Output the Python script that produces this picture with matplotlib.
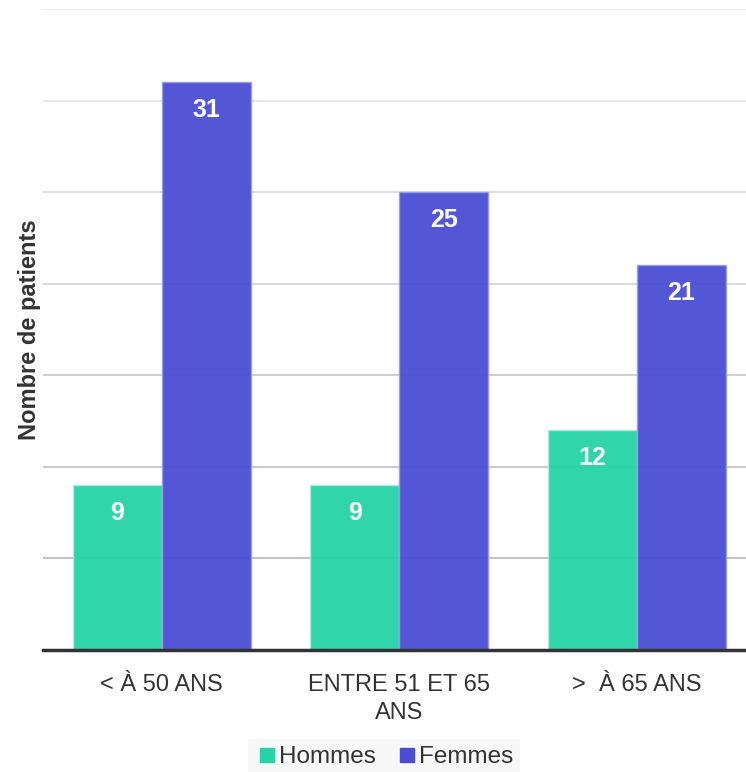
import matplotlib
matplotlib.use("Agg")
import matplotlib.pyplot as plt
import numpy as np
from matplotlib.lines import Line2D

plt.rcParams['font.family'] = ['Liberation Sans', 'DejaVu Sans']

categories = ["< À 50 ANS", "ENTRE 51 ET 65\nANS", ">  À 65 ANS"]
hommes = [9, 9, 12]
femmes = [31, 25, 21]
series_names = ["Hommes", "Femmes"]
colors = ["#26d3a6", "#4b4ed3"]

fig = plt.figure(figsize=(7.46, 7.72), dpi=100)
ax = fig.add_axes([43/746, 1 - 650/772, (746-43)/746, 641/772])

x = np.arange(len(categories))
w = 0.375
b1 = ax.bar(x - w/2, hommes, w, color=colors[0], alpha=0.95, edgecolor="#a8eedb", linewidth=1, zorder=2)
b2 = ax.bar(x + w/2, femmes, w, color=colors[1], alpha=0.95, edgecolor="#9a9ce8", linewidth=1, zorder=2)

for bars, vals in ((b1, hommes), (b2, femmes)):
    for r, v in zip(bars, vals):
        ax.annotate(str(v), (r.get_x() + r.get_width()/2, v), xytext=(0, -28),
                    textcoords="offset pixels",
                    ha="center", va="center", color="white", fontsize=18, fontweight="bold", zorder=4)

ax.set_ylim(0, 35)
ax.set_xlim(-0.5, 2.46)
ax.set_yticks(np.arange(0, 36, 5))
ax.set_yticklabels([])
ax.tick_params(axis="y", length=0)
ax.tick_params(axis="x", length=0, pad=17)
ax.set_xticks(x)
ax.set_xticklabels(categories, fontsize=17, color="#333333", linespacing=1.35)
ax.yaxis.grid(True, zorder=3)
gl = ax.get_ygridlines()
gcols = ["#aaaaaa", "#b0b0b0", "#bababa", "#c4c4c4", "#cfcfcf", "#d8d8d8", "#e0e0e0", "#e6e6e6"]
for g, c in zip(gl, gcols):
    g.set_color(c)
    g.set_linewidth(1.3)
    g.set_alpha(0.85)
for s in ["top", "right", "left"]:
    ax.spines[s].set_visible(False)
ax.spines["bottom"].set_color("#333333")
ax.spines["bottom"].set_linewidth(2.5)
ax.spines["bottom"].set_zorder(5)
ax.set_ylabel("Nombre de patients", fontsize=17, fontweight="bold", color="#333333")
ax.yaxis.set_label_coords(-2/703, 0.5)

handles = [Line2D([], [], marker="s", linestyle="none", markersize=10, color=c) for c in colors]
leg = fig.legend(handles, series_names, loc="center", bbox_to_anchor=(384/746, 1 - 757/772),
                 ncol=2, frameon=True, fontsize=17.5, handletextpad=0.0, columnspacing=0.75,
                 borderpad=0.3, handlelength=1.0, borderaxespad=0)
leg.get_frame().set_facecolor("#f5f5f5")
leg.get_frame().set_edgecolor("none")
leg.get_frame().set_boxstyle("square", pad=0.0)
for t in leg.get_texts():
    t.set_color("#333333")

fig.savefig("out.png", dpi=100)
